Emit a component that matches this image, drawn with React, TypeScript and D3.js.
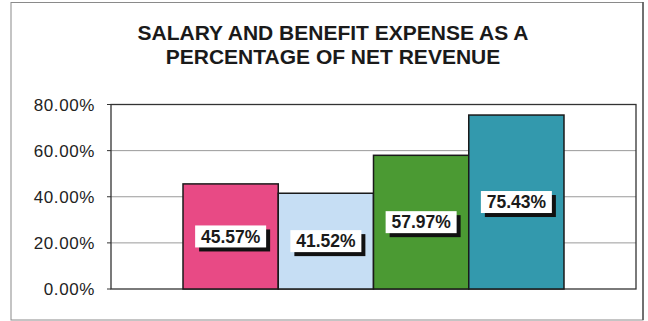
import React from "react";
import * as d3 from "d3";

const titleLines = ["SALARY AND BENEFIT EXPENSE AS A", "PERCENTAGE OF NET REVENUE"];
const categories = ["Net Revenue"];
const seriesNames = ["Series 1", "Series 2", "Series 3", "Series 4"];
const seriesValues = [45.57, 41.52, 57.97, 75.43];
const seriesColors = ["#e84a85", "#c6def4", "#4b9a33", "#3399ad"];
const yTicks = [0, 20, 40, 60, 80];

const W = 648;
const H = 321;
const plot = { left: 111, right: 636, top: 104.5, bottom: 289 };

export default function App() {
  const y = d3.scaleLinear().domain([0, 80]).range([plot.bottom, plot.top]);
  const x0 = d3
    .scaleBand<string>()
    .domain(categories)
    .range([plot.left, plot.right])
    .paddingInner(0)
    .paddingOuter(0.189);
  const x1 = d3
    .scaleBand<string>()
    .domain(seriesNames)
    .range([0, x0.bandwidth()])
    .padding(0);
  const fmt = (v: number) => d3.format(".2f")(v) + "%";
  const font = "Arial, 'Liberation Sans', sans-serif";

  return (
    <svg
      width={W}
      height={H}
      style={{ position: "absolute", left: 0, top: 0, background: "#fff" }}
    >
      <rect x={11} y={2.5} width={632} height={317.5} fill="#fff" stroke="#8a8a8a" strokeWidth={1} />
      <line x1={643} y1={2} x2={643} y2={320} stroke="#555" strokeWidth={1.5} />
      {titleLines.map((t, i) => (
        <text
          key={i}
          x={333}
          y={39.5 + i * 24}
          textAnchor="middle"
          fontFamily={font}
          fontWeight="bold"
          fontSize={21}
          fill="#1a1a1a"
        >
          {t}
        </text>
      ))}
      {yTicks.map((t) => (
        <g key={t}>
          {t > 0 && t < 80 && (
            <line x1={plot.left} x2={plot.right} y1={y(t)} y2={y(t)} stroke="#9a9a9a" strokeWidth={1} />
          )}
          <line x1={107} x2={plot.left} y1={y(t)} y2={y(t)} stroke="#333" strokeWidth={1} />
          <text
            x={95}
            y={y(t)}
            dy="0.36em"
            textAnchor="end"
            fontFamily={font}
            fontSize={17}
            letterSpacing={0.6}
            fill="#222"
          >
            {fmt(t)}
          </text>
        </g>
      ))}
      <rect
        x={plot.left}
        y={plot.top}
        width={plot.right - plot.left}
        height={plot.bottom - plot.top}
        fill="none"
        stroke="#333"
        strokeWidth={1.3}
      />
      {categories.map((c) => (
        <g key={c} transform={`translate(${x0(c)},0)`}>
          {seriesNames.map((s, i) => {
            const v = seriesValues[i];
            const bx = x1(s)!;
            const bw = x1.bandwidth();
            const top = y(v);
            return (
              <rect
                key={s}
                x={bx}
                y={top}
                width={bw}
                height={plot.bottom - top}
                fill={seriesColors[i]}
                stroke="#1a1a1a"
                strokeWidth={1.5}
              />
            );
          })}
          {seriesNames.map((s, i) => {
            const v = seriesValues[i];
            const cx = x1(s)! + x1.bandwidth() / 2;
            const cy = (y(v) + plot.bottom) / 2;
            const bw = 71;
            const bh = 22;
            return (
              <g key={s + "l"}>
                <rect x={cx - bw / 2 + 4} y={cy - bh / 2 + 4} width={bw} height={bh} fill="#111" />
                <rect x={cx - bw / 2} y={cy - bh / 2} width={bw} height={bh} fill="#fff" />
                <text
                  x={cx}
                  y={cy}
                  dy="0.36em"
                  textAnchor="middle"
                  fontFamily={font}
                  fontWeight="bold"
                  fontSize={17.5}
                  fill="#1a1a1a"
                >
                  {fmt(v)}
                </text>
              </g>
            );
          })}
        </g>
      ))}
    </svg>
  );
}
